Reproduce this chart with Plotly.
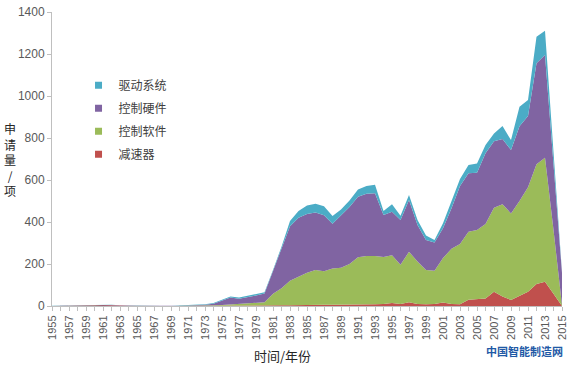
import plotly.graph_objects as go

years = list(range(1955, 2016))

# 减速器 (reducer)
reducer = [0, 0, 0, 0, 1, 3, 5, 5, 2, 1,
           0, 0, 0, 0, 0, 0, 0, 0, 0, 0,
           0, 0, 0, 0, 1, 1, 2, 3, 4, 5,
           7, 7, 6, 6, 6, 6, 7, 8, 8, 10,
           14, 10, 18, 10, 8, 10, 17, 10, 8, 30,
           32, 36, 68, 45, 29, 48, 68, 105, 116, 58,
           0]
# 控制软件 (control software)
software = [0, 0, 0, 0, 0, 0, 0, 0, 0, 0,
            0, 0, 0, 0, 0, 0, 1, 1, 2, 3,
            5, 8, 10, 12, 17, 17, 56, 82, 116, 133,
            151, 165, 159, 172, 176, 194, 225, 230, 230, 223,
            228, 186, 240, 202, 164, 158, 211, 263, 287, 324,
            330, 354, 400, 440, 412, 452, 497, 570, 590, 304,
            3]
# 控制硬件 (control hardware)
hardware = [0, 0, 1, 1, 1, 1, 1, 0, 1, 0,
            1, 1, 0, 0, 1, 1, 1, 2, 4, 8,
            21, 32, 25, 30, 32, 42, 107, 185, 260, 282,
            280, 273, 267, 214, 248, 272, 288, 297, 299, 200,
            207, 214, 247, 174, 142, 134, 142, 192, 277, 278,
            273, 337, 317, 310, 302, 356, 340, 481, 489, 314,
            154]
# 驱动系统 (drive system)
drive = [1, 1, 1, 1, 1, 1, 0, 1, 0, 1,
         0, 0, 1, 1, 0, 1, 1, 1, 2, 3,
         4, 5, 5, 6, 6, 6, 7, 12, 25, 32,
         40, 42, 43, 36, 30, 30, 35, 37, 40, 19,
         35, 20, 24, 24, 22, 12, 24, 32, 33, 39,
         44, 40, 37, 62, 47, 93, 76, 126, 116, 57,
         3]

series = [
    ("减速器", reducer, "#C0504D"),
    ("控制软件", software, "#9BBB59"),
    ("控制硬件", hardware, "#8064A2"),
    ("驱动系统", drive, "#4BACC6"),
]

fig = go.Figure()
for name, vals, col in series:
    fig.add_trace(go.Scatter(
        x=years, y=vals, name=name, stackgroup="one", mode="lines",
        line=dict(width=0, color=col), fillcolor=col, showlegend=False,
        hoverinfo="x+y+name"))
for i, (name, vals, col) in enumerate(reversed(series)):
    fig.add_trace(go.Scatter(
        x=[None], y=[None], name=name, mode="markers", legendgroup=f"g{i}",
        marker=dict(symbol="square", size=7, color=col), showlegend=True))

tick_font = dict(family="Liberation Sans, Arial, sans-serif", size=11, color="#595959")
cjk = "Noto Sans CJK SC, sans-serif"

fig.update_layout(
    width=568, height=370,
    margin=dict(l=52, r=6, t=12, b=64, autoexpand=False),
    paper_bgcolor="white", plot_bgcolor="white",
    showlegend=True,
    legend=dict(x=0.052, y=0.80, xanchor="left", yanchor="top",
                font=dict(family=cjk, size=12, color="#404040"),
                bgcolor="rgba(0,0,0,0)", tracegroupgap=4,
                itemwidth=30, traceorder="grouped"),
    xaxis=dict(range=[1955, 2015], tick0=1955, dtick=2, tickangle=-90,
               ticks="outside", ticklen=4, tickcolor="#BFBFBF",
               minor=dict(dtick=1, ticks="outside", ticklen=4, tickcolor="#BFBFBF"),
               showline=True, linecolor="#BFBFBF", linewidth=1,
               showgrid=False, zeroline=False, tickfont=tick_font, fixedrange=True),
    yaxis=dict(range=[0, 1400], tick0=0, dtick=200,
               ticks="outside", ticklen=4, tickcolor="#BFBFBF",
               showline=True, linecolor="#BFBFBF", linewidth=1,
               showgrid=False, zeroline=False, tickfont=dict(tick_font, size=12),
               fixedrange=True),
    annotations=[
        dict(text="时间/年份", xref="paper", yref="paper", x=0.451, y=-0.167,
             xanchor="center", yanchor="middle", showarrow=False,
             font=dict(family=cjk, size=13, color="#262626")),
        dict(text="申<br>请<br>量<br>/<br>项", xref="paper", yref="paper",
             x=-0.083, y=0.497, xanchor="center", yanchor="middle",
             showarrow=False, font=dict(family=cjk, size=12, color="#262626")),
        dict(text="<b>中国智能制造网</b>", xref="paper", yref="paper",
             x=0.927, y=-0.153, xanchor="center", yanchor="middle",
             showarrow=False, font=dict(family=cjk, size=11, color="#1F5AA6")),
    ],
)

fig.write_html("out.html", config={"displayModeBar": False},
               post_script="document.body.style.margin='0';")
